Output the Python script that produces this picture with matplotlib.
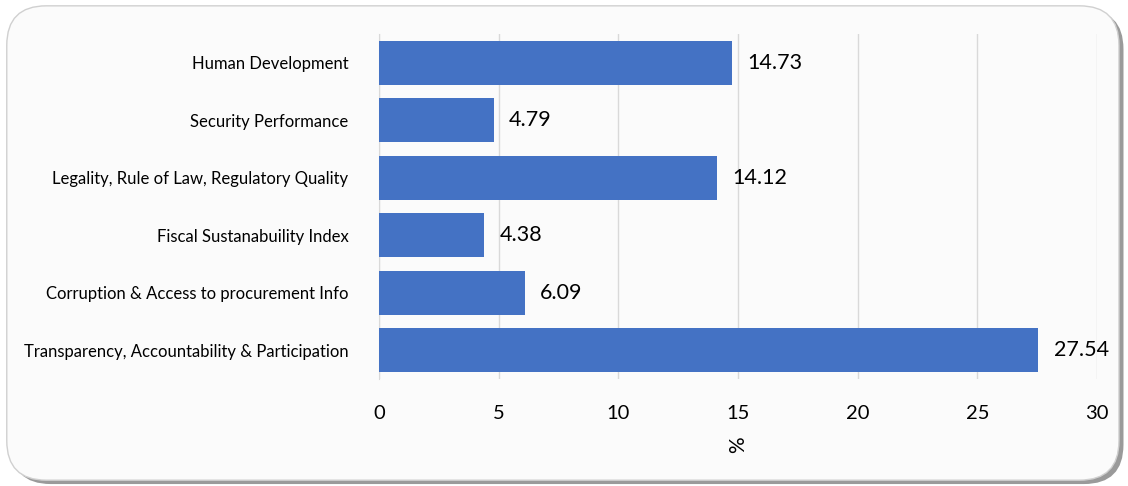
import matplotlib.pyplot as plt
from matplotlib.patches import FancyBboxPatch

categories = [
    "Human Development",
    "Security Performance",
    "Legality, Rule of Law, Regulatory Quality",
    "Fiscal Sustanabuility Index",
    "Corruption & Access to procurement Info",
    "Transparency, Accountability & Participation",
]
values = [14.73, 4.79, 14.12, 4.38, 6.09, 27.54]
xticks = [0, 5, 10, 15, 20, 25, 30]

plt.rcParams['font.family'] = ['Lato', 'DejaVu Sans']

fig = plt.figure(figsize=(11.28, 4.86), dpi=100)
fig.patch.set_facecolor('white')

# rounded frame with a soft shadow
shadow = FancyBboxPatch((0.010, 0.004), 0.986, 0.976, boxstyle="round,pad=0,rounding_size=0.035",
                        transform=fig.transFigure, facecolor='#9a9a9a', edgecolor='none', zorder=-3,
                        mutation_aspect=1128 / 486)
frame = FancyBboxPatch((0.006, 0.012), 0.986, 0.976, boxstyle="round,pad=0,rounding_size=0.035",
                       transform=fig.transFigure, facecolor='#fbfbfb', edgecolor='#d0d0d0', lw=1.0,
                       zorder=-2, mutation_aspect=1128 / 486)
fig.patches.extend([shadow, frame])

ax = fig.add_axes([0.336, 0.22, 0.6365, 0.71])
ax.set_facecolor('none')

y = range(len(categories))
bars = ax.barh(y, values, height=0.77, color='#4472C4', zorder=3)
for b, v in zip(bars, values):
    ax.text(v + 0.65, b.get_y() + b.get_height() / 2, f"{v:.2f}", va='center', ha='left',
            fontsize=15.5, color='black')

ax.set_yticks(list(y))
ax.set_yticklabels(categories, fontsize=12)
ax.set_ylim(len(categories) - 0.5, -0.5)
ax.set_xlim(0, 30)
ax.set_xticks(xticks)
ax.set_xticklabels([str(t) for t in xticks], fontsize=14.5)
ax.tick_params(axis='both', length=0)
ax.tick_params(axis='y', pad=22)
ax.tick_params(axis='x', pad=19)
ax.grid(axis='x', color='#d9d9d9', lw=1, zorder=0)
for s in ['top', 'right', 'bottom']:
    ax.spines[s].set_visible(False)
ax.spines['left'].set_color('#d9d9d9')

ax.set_xlabel('%', fontsize=15, rotation=90, labelpad=10)

fig.savefig('out.png', dpi=100)
